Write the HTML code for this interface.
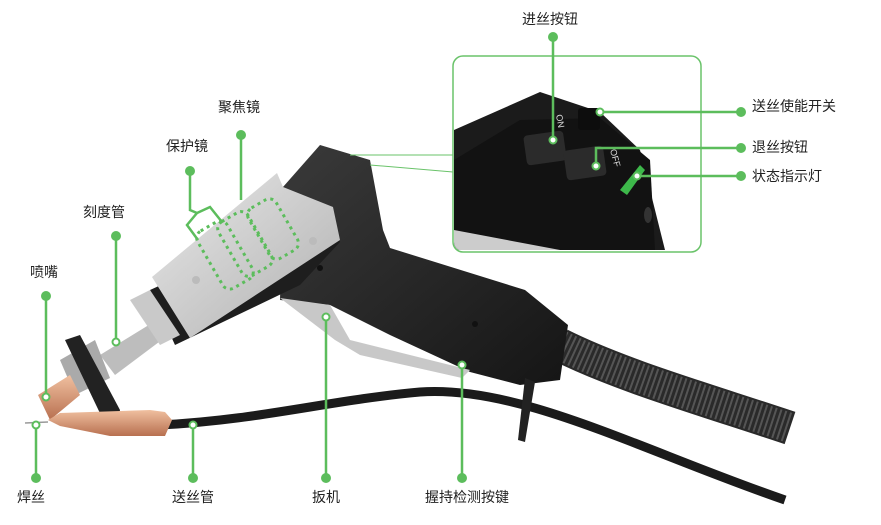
<!DOCTYPE html>
<html><head><meta charset="utf-8"><style>
html,body{margin:0;padding:0;background:#fff;width:881px;height:525px;overflow:hidden}
svg{display:block}
text{font-family:"Liberation Sans","Noto Sans CJK SC",sans-serif;font-size:14px;fill:#222}
</style></head><body>
<svg width="881" height="525" viewBox="0 0 881 525">
<defs>
<linearGradient id="sil" x1="0" y1="0" x2="1" y2="1"><stop offset="0" stop-color="#e8e8e8"/><stop offset="1" stop-color="#b0b0b0"/></linearGradient>
<linearGradient id="blk" x1="0" y1="0" x2="1" y2="1"><stop offset="0" stop-color="#3a3a3a"/><stop offset="1" stop-color="#151515"/></linearGradient>
<linearGradient id="cu" x1="0" y1="0" x2="0" y2="1"><stop offset="0" stop-color="#f0c0a0"/><stop offset="1" stop-color="#b87050"/></linearGradient>
</defs>
<!-- braided cable -->
<path d="M560 345 C620 375 700 398 790 428" stroke="#2a2a2a" stroke-width="34" fill="none"/>
<path d="M560 345 C620 375 700 398 790 428" stroke="#555" stroke-width="30" fill="none" stroke-dasharray="2 3"/>
<!-- wire feed cable -->
<path d="M160 425 C260 420 330 400 420 392 C520 385 640 450 785 500" stroke="#1b1b1b" stroke-width="9" fill="none"/>
<!-- handle black -->
<path d="M283 187 L320 145 L370 160 L383 230 L390 248 L525 290 L568 325 L560 380 L520 385 L470 372 L390 335 L330 305 L280 300 Z" fill="url(#blk)"/>
<!-- trigger silver -->
<path d="M280 298 L330 305 L350 340 L470 370 L462 378 L360 355 L335 340 Z" fill="#c8c8c8"/>
<!-- strap -->
<path d="M525 378 L518 440 L525 442 L535 382 Z" fill="#222"/>
<!-- head dark underside -->
<path d="M175 345 L300 285 L340 242 L333 207 L150 290 Z" fill="#1e1e1e"/>
<!-- head silver -->
<path d="M152 277 L277 173 L283 187 L333 207 L340 240 L190 338 Z" fill="url(#sil)"/>
<circle cx="196" cy="280" r="4" fill="#bbb"/><circle cx="313" cy="241" r="4" fill="#bbb"/>
<circle cx="320" cy="268" r="3" fill="#111"/><circle cx="475" cy="324" r="3" fill="#111"/>
<!-- nozzle assembly -->
<path d="M100 355 L165 315 L175 330 L115 375 Z" fill="#bdbdbd"/>
<path d="M130 300 L150 290 L180 335 L160 345 Z" fill="#c9c9c9"/>
<path d="M60 360 L95 340 L110 378 L75 395 Z" fill="#aaa"/>
<path d="M65 340 L80 335 L120 410 L115 435 L108 430 Z" fill="#222"/>
<path d="M38 395 L70 375 L80 395 L50 420 Z" fill="url(#cu)"/>
<path d="M48 420 L60 413 L150 410 L165 412 L172 420 L165 436 L110 436 L60 426 Z" fill="url(#cu)"/>
<line x1="25" y1="423" x2="48" y2="422" stroke="#999" stroke-width="1.5"/>
<!-- dotted lens -->
<g fill="none" stroke="#5cbd5c" stroke-width="3" stroke-dasharray="3 4">
<rect x="208" y="222" width="34" height="66" rx="8" transform="rotate(-30 225 255)"/>
<rect x="228" y="213" width="34" height="62" rx="8" transform="rotate(-30 245 244)"/>
<rect x="257" y="200" width="32" height="58" rx="8" transform="rotate(-30 273 229)"/>
</g>
<!-- inset -->
<line x1="350" y1="155" x2="453" y2="155" stroke="#6ac36a" stroke-width="1"/>
<line x1="370" y1="165" x2="453" y2="172" stroke="#6ac36a" stroke-width="1"/>
<rect x="453" y="56" width="248" height="196" rx="10" fill="#fff" stroke="#6ac36a" stroke-width="1.5"/>
<clipPath id="c"><rect x="454" y="57" width="246" height="194" rx="9"/></clipPath>
<g clip-path="url(#c)">
<path d="M454 130 L540 92 L600 112 L640 150 L665 250 L454 250 Z" fill="#1b1b1b"/>
<path d="M454 160 L520 120 L600 118 L650 160 L655 250 L454 250 Z" fill="#121212"/>
<path d="M454 230 L560 250 L454 250 Z" fill="#ccc"/>
<rect x="525" y="133" width="40" height="30" rx="4" fill="#2b2b2b" transform="rotate(-8 545 148)"/>
<rect x="565" y="148" width="40" height="30" rx="4" fill="#2b2b2b" transform="rotate(-8 585 163)"/>
<rect x="578" y="108" width="22" height="22" rx="3" fill="#0d0d0d"/>
<path d="M620 190 L640 165 L645 170 L627 195 Z" fill="#3db84a"/>
<ellipse cx="648" cy="215" rx="4" ry="8" fill="#333"/>
<text x="556" y="115" style="font-size:9px;fill:#ddd" transform="rotate(80 556 115)">ON</text>
<text x="610" y="150" style="font-size:9px;fill:#ddd" transform="rotate(75 610 150)">OFF</text>
</g>
<!-- callout lines -->
<g stroke="#5cbd5c" stroke-width="2.5" fill="none">
<path d="M553 37 V140"/><path d="M741 112 H600"/><path d="M741 148 H596 V166"/><path d="M741 176 H637"/>
<path d="M241 135 V200"/><path d="M190 171 V210 L197 213 L210 207 L222 222"/><path d="M197 213 L187 225 L198 240"/>
<path d="M116 236 V342"/><path d="M46 296 V397"/><path d="M36 425 V478"/><path d="M193 425 V478"/><path d="M326 317 V478"/><path d="M462 365 V478"/>
</g>
<g fill="#5cbd5c">
<circle cx="553" cy="37" r="5"/><circle cx="741" cy="112" r="5"/><circle cx="741" cy="148" r="5"/><circle cx="741" cy="176" r="5"/>
<circle cx="241" cy="135" r="5"/><circle cx="190" cy="171" r="5"/><circle cx="116" cy="236" r="5"/><circle cx="46" cy="296" r="5"/>
<circle cx="36" cy="478" r="5"/><circle cx="193" cy="478" r="5"/><circle cx="326" cy="478" r="5"/><circle cx="462" cy="478" r="5"/>
</g>
<g fill="#fff" stroke="#5cbd5c" stroke-width="2">
<circle cx="553" cy="140" r="3.5"/><circle cx="600" cy="112" r="3.5"/><circle cx="596" cy="166" r="3.5"/><circle cx="637" cy="176" r="3.5"/>
<circle cx="116" cy="342" r="3.5"/><circle cx="46" cy="397" r="3.5"/><circle cx="36" cy="425" r="3.5"/><circle cx="193" cy="425" r="3.5"/><circle cx="326" cy="317" r="3.5"/><circle cx="462" cy="365" r="3.5"/>
</g>
<!-- labels -->
<text x="522" y="24">进丝按钮</text>
<text x="752" y="111">送丝使能开关</text>
<text x="752" y="152">退丝按钮</text>
<text x="752" y="181">状态指示灯</text>
<text x="218" y="112">聚焦镜</text>
<text x="166" y="151">保护镜</text>
<text x="83" y="217">刻度管</text>
<text x="30" y="277">喷嘴</text>
<text x="17" y="502">焊丝</text>
<text x="172" y="502">送丝管</text>
<text x="312" y="502">扳机</text>
<text x="425" y="502">握持检测按键</text>
</svg>
</body></html>
